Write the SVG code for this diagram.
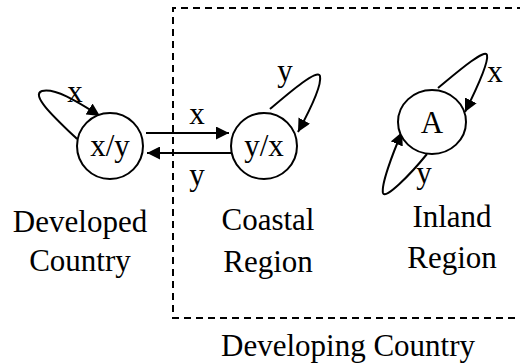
<svg xmlns="http://www.w3.org/2000/svg" width="520" height="364" viewBox="0 0 520 364">
<style>
text{font-family:'Liberation Serif','Times New Roman',serif;font-size:31px;fill:#000;text-anchor:middle}
.node{fill:#fff;stroke:#000;stroke-width:2}
.edge{fill:none;stroke:#000;stroke-width:2}
.box{fill:none;stroke:#000;stroke-width:2;stroke-dasharray:7,5}
</style>
<defs>
<marker id="ah" markerWidth="13" markerHeight="13" refX="13" refY="6.5" orient="auto" markerUnits="userSpaceOnUse">
<path d="M0,0 L13,6.5 L0,13 z" fill="#000"/>
</marker>
</defs>
<g id="developing-box">
<path class="box" d="M524,8 H173 V318 H524"/>
<text x="348" y="356">Developing Country</text>
</g>
<g id="connectors">
<path class="edge" d="M146,133 H229" marker-end="url(#ah)"/>
<path class="edge" d="M231,153 H147" marker-end="url(#ah)"/>
<path class="edge" d="M77,139 C55,118 30,95 42,91 C55,88 75,100 100,116" marker-end="url(#ah)"/>
<path class="edge" d="M270,109 C290,92 318,68 320,76 C322,85 310,110 298,132" marker-end="url(#ah)"/>
<path class="edge" d="M438,88 C455,74 485,48 487,55 C489,63 476,90 465,112" marker-end="url(#ah)"/>
<path class="edge" d="M427,154 C410,175 385,200 383,193 C381,185 392,155 402,132" marker-end="url(#ah)"/>
<text x="197" y="124">x</text>
<text x="197" y="185">y</text>
<text x="75" y="102">x</text>
<text x="285" y="81">y</text>
<text x="495" y="82">x</text>
<text x="424" y="183">y</text>
</g>
<g id="node-developed">
<circle class="node" cx="110" cy="146" r="33"/>
<text x="110" y="156">x/y</text>
<text x="80" y="232">Developed</text>
<text x="80" y="271">Country</text>
</g>
<g id="node-coastal">
<circle class="node" cx="264" cy="146" r="33"/>
<text x="264" y="156">y/x</text>
<text x="268" y="230">Coastal</text>
<text x="268" y="272">Region</text>
</g>
<g id="node-inland">
<ellipse class="node" cx="432" cy="122" rx="34" ry="32"/>
<text x="432" y="133">A</text>
<text x="452" y="227">Inland</text>
<text x="452" y="268">Region</text>
</g>
</svg>
